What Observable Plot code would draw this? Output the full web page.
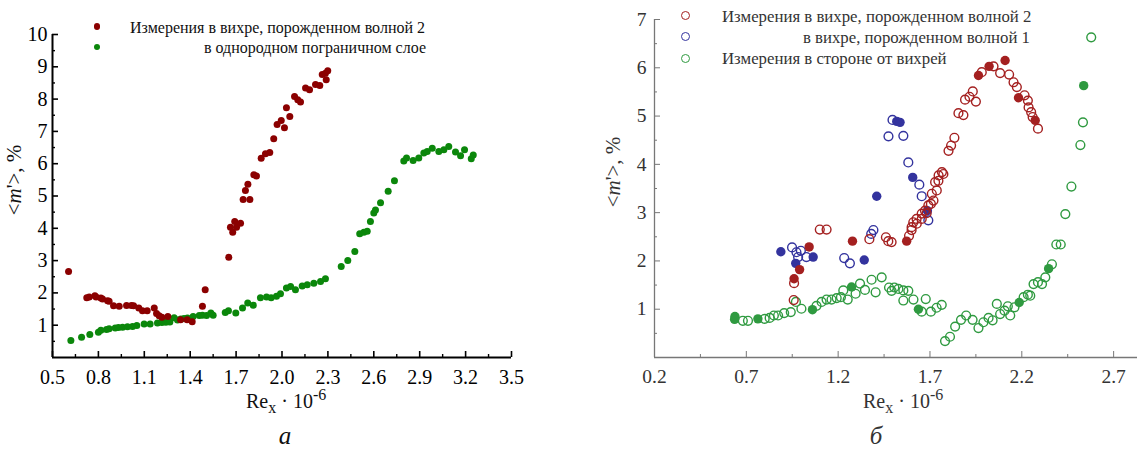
<!DOCTYPE html>
<html><head><meta charset="utf-8">
<script src="https://cdn.jsdelivr.net/npm/d3@7"></script>
<script src="https://cdn.jsdelivr.net/npm/@observablehq/plot@0.6"></script>
<style>
html,body{margin:0;padding:0;background:#fff;}
#wrap{position:relative;width:1137px;height:453px;overflow:hidden;font-family:"Liberation Serif","Times New Roman",serif;background:#fff;}
.abs{position:absolute;white-space:nowrap;}
sub,sup{font-size:0.8em;line-height:0;}
.dot{position:absolute;border-radius:50%;box-sizing:border-box;}
</style></head><body><div id="wrap"></div>
<script>
// ---------- Panel а data ----------
const xTicksA = [0.5,0.8,1.1,1.4,1.7,2.0,2.3,2.6,2.9,3.2,3.5];
const xMinorA = [0.65,0.95,1.25,1.55,1.85,2.15,2.45,2.75,3.05,3.35];
const yTicksA = [1,2,3,4,5,6,7,8,9,10];
const yMinorA = [0.5,1.5,2.5,3.5,4.5,5.5,6.5,7.5,8.5,9.5];
const legendA = ["Измерения в вихре, порожденном волной 2", "в однородном пограничном слое"];
const vortexA = [[0.605,2.66],[0.724,1.85],[0.74,1.87],[0.777,1.91],[0.785,1.87],[0.816,1.84],[0.827,1.81],[0.86,1.76],[0.87,1.74],[0.899,1.6],[0.936,1.59],[0.984,1.61],[1.016,1.61],[1.03,1.6],[1.064,1.53],[1.088,1.45],[1.119,1.45],[1.165,1.53],[1.18,1.36],[1.197,1.29],[1.215,1.25],[1.254,1.27],[1.337,1.17],[1.38,1.17],[1.413,1.11],[1.48,1.59],[1.498,2.1],[1.652,3.1],[1.663,4.03],[1.678,3.88],[1.691,4.21],[1.703,4.03],[1.729,4.16],[1.746,4.89],[1.761,5.17],[1.777,5.36],[1.79,4.89],[1.816,5.66],[1.833,5.62],[1.864,6.17],[1.892,6.31],[1.92,6.35],[1.946,6.77],[1.968,7.21],[1.995,7.34],[2.016,7.11],[2.029,7.73],[2.051,7.46],[2.082,8.08],[2.103,7.98],[2.121,7.91],[2.154,8.34],[2.18,8.29],[2.219,8.45],[2.247,8.42],[2.263,8.76],[2.284,8.8],[2.299,8.88],[2.289,8.6]];
const uniformA = [[0.62,0.53],[0.69,0.63],[0.744,0.71],[0.8,0.78],[0.816,0.84],[0.853,0.87],[0.87,0.89],[0.91,0.91],[0.931,0.93],[0.958,0.94],[0.99,0.95],[1.023,0.96],[1.051,0.99],[1.099,1.04],[1.138,1.04],[1.186,1.07],[1.215,1.08],[1.241,1.09],[1.267,1.1],[1.295,1.23],[1.317,1.16],[1.339,1.19],[1.36,1.21],[1.382,1.22],[1.419,1.27],[1.459,1.3],[1.48,1.31],[1.507,1.3],[1.535,1.38],[1.55,1.31],[1.629,1.39],[1.65,1.45],[1.698,1.38],[1.742,1.53],[1.776,1.69],[1.812,1.62],[1.859,1.85],[1.899,1.87],[1.929,1.85],[1.964,1.9],[1.99,1.97],[2.029,2.15],[2.056,2.2],[2.088,2.1],[2.132,2.21],[2.165,2.25],[2.208,2.3],[2.252,2.35],[2.284,2.44],[2.387,2.82],[2.43,3.0],[2.476,3.28],[2.508,3.83],[2.535,3.88],[2.557,3.91],[2.578,4.21],[2.6,4.47],[2.611,4.57],[2.644,4.79],[2.694,5.15],[2.735,5.47],[2.796,6.08],[2.814,6.18],[2.857,6.1],[2.894,6.18],[2.927,6.33],[2.949,6.38],[2.982,6.48],[3.025,6.38],[3.058,6.43],[3.09,6.53],[3.134,6.36],[3.167,6.25],[3.193,6.43],[3.237,6.15],[3.25,6.27]];

// ---------- Panel б data ----------
const xTicksB = [0.2,0.7,1.2,1.7,2.2,2.7];
const xMinorB = [0.45,0.95,1.45,1.95,2.45];
const yTicksB = [1,2,3,4,5,6,7];
const yMinorB = [0.5,1.5,2.5,3.5,4.5,5.5,6.5];
const legendB = ["Измерения в вихре, порожденном волной 2", "в вихре, порожденном волной 1", "Измерения в стороне от вихрей"];
const wave2Open = [[0.958,1.19],[0.96,1.54],[1.1,2.65],[1.137,2.65],[1.37,2.45],[1.46,2.49],[1.473,2.41],[1.491,2.39],[1.586,2.52],[1.6,2.64],[1.6,2.7],[1.609,2.8],[1.628,2.77],[1.627,2.87],[1.655,2.87],[1.655,2.98],[1.673,3.04],[1.682,2.99],[1.691,3.15],[1.705,3.18],[1.719,3.25],[1.71,3.39],[1.737,3.46],[1.728,3.63],[1.746,3.66],[1.747,3.77],[1.765,3.84],[1.773,3.8],[1.801,4.28],[1.815,4.39],[1.833,4.55],[1.855,5.06],[1.882,5.02],[1.891,5.34],[1.915,5.4],[1.933,5.51],[1.95,5.3],[1.982,5.91],[2.046,6.03],[2.082,5.89],[2.131,5.86],[2.155,5.7],[2.173,5.6],[2.215,5.43],[2.233,5.32],[2.237,5.18],[2.251,5.08],[2.259,4.98],[2.288,4.74]];
const wave2Fill = [[0.96,1.63],[0.99,1.82],[1.042,2.29],[1.278,2.41],[1.573,2.41],[1.964,5.84],[2.022,6.03],[2.109,6.15],[2.182,5.38],[2.273,4.91]];
const wave1Open = [[0.949,2.28],[0.973,2.18],[0.997,2.21],[0.982,2.08],[1.027,2.08],[1.233,2.06],[1.264,1.95],[1.38,2.56],[1.392,2.64],[1.474,4.58],[1.496,4.92],[1.555,4.59],[1.582,4.04],[1.642,3.58],[1.655,3.34],[1.691,2.84]];
const wave1Fill = [[0.888,2.19],[0.969,1.95],[1.064,2.08],[1.342,2.02],[1.41,3.34],[1.519,4.89],[1.537,4.87],[1.606,3.73],[1.686,3.04]];
const asideOpen = [[0.681,0.76],[0.709,0.76],[0.8,0.8],[0.827,0.82],[0.85,0.87],[0.873,0.87],[0.906,0.92],[0.942,0.94],[0.97,1.15],[1.0,1.01],[1.082,1.07],[1.11,1.15],[1.137,1.2],[1.164,1.2],[1.192,1.23],[1.215,1.25],[1.228,1.39],[1.252,1.2],[1.295,1.32],[1.319,1.53],[1.346,1.4],[1.382,1.61],[1.404,1.35],[1.437,1.66],[1.477,1.45],[1.491,1.38],[1.506,1.45],[1.528,1.42],[1.555,1.39],[1.582,1.38],[1.555,1.18],[1.61,1.2],[1.655,0.95],[1.677,1.21],[1.705,0.95],[1.736,1.03],[1.764,1.09],[1.782,0.34],[1.809,0.43],[1.837,0.64],[1.869,0.78],[1.897,0.87],[1.932,0.78],[1.964,0.61],[1.991,0.73],[2.019,0.82],[2.041,0.77],[2.064,1.11],[2.082,0.9],[2.106,0.97],[2.124,1.06],[2.137,0.87],[2.16,1.04],[2.21,1.25],[2.233,1.3],[2.246,1.28],[2.264,1.52],[2.288,1.56],[2.31,1.52],[2.328,1.66],[2.364,1.93],[2.388,2.34],[2.412,2.34],[2.437,2.97],[2.47,3.54],[2.519,4.4],[2.533,4.87],[2.578,6.63]];
const asideFill = [[0.638,0.85],[0.636,0.79],[0.763,0.8],[1.06,0.99],[1.273,1.46],[1.637,1.0],[2.186,1.14],[2.346,1.84],[2.537,5.63]];

const redA = "#8b0000", greenA = "#0b870b";
const redB = "#a42020", blueB = "#33339e", greenB = "#2f9a40";

const wrap = document.getElementById("wrap");
const X = d => d[0], Y = d => d[1];

const left = Plot.plot({
  width: 560, height: 453,
  marginLeft: 52, marginRight: 49, marginTop: 34, marginBottom: 96,
  style: {fontFamily: "Liberation Serif", fontSize: "20px", color: "#000", background: "transparent", overflow: "visible"},
  x: {domain: [0.5, 3.5]},
  y: {domain: [0, 10]},
  marks: [
    Plot.axisX(xTicksA, {tickSize: -6, tickPadding: 18, tickFormat: d => d.toFixed(1), label: null, strokeWidth: 1.6, fontSize: 20}),
    Plot.axisX(xMinorA, {tickSize: -3, tickFormat: () => "", label: null, strokeWidth: 1.4}),
    Plot.axisY(yTicksA, {tickSize: -6, tickPadding: 11, tickFormat: d => String(d), label: null, strokeWidth: 1.6, fontSize: 20}),
    Plot.axisY(yMinorA, {tickSize: -3, tickFormat: () => "", label: null, strokeWidth: 1.4}),
    Plot.ruleX([0.5], {stroke: "#000", strokeWidth: 2}),
    Plot.ruleY([0], {stroke: "#000", strokeWidth: 2}),
    Plot.dot(uniformA, {x: X, y: Y, r: 3.5, fill: greenA}),
    Plot.dot(vortexA, {x: X, y: Y, r: 3.5, fill: redA})
  ]
});
left.style.position = "absolute"; left.style.left = "0px"; left.style.top = "0px";
wrap.appendChild(left);

const right = Plot.plot({
  width: 577, height: 453,
  marginLeft: 94, marginRight: 0, marginTop: 19, marginBottom: 96,
  style: {fontFamily: "Liberation Serif", fontSize: "19px", color: "#333", background: "transparent", overflow: "visible"},
  x: {domain: [0.2, 2.83]},
  y: {domain: [0, 7]},
  marks: [
    Plot.axisX(xTicksB, {tickSize: -6, tickPadding: 18, tickFormat: d => d.toFixed(1), label: null, stroke: "#777", fill: "#333", fontSize: 19.5}),
    Plot.axisX(xMinorB, {tickSize: -3, tickFormat: () => "", label: null, stroke: "#777"}),
    Plot.axisY(yTicksB, {tickSize: -6, tickPadding: 14, tickFormat: d => String(d), label: null, stroke: "#777", fill: "#333", fontSize: 19.5}),
    Plot.axisY(yMinorB, {tickSize: -3, tickFormat: () => "", label: null, stroke: "#777"}),
    Plot.ruleX([0.2], {stroke: "#777", strokeWidth: 1.3}),
    Plot.ruleY([0], {stroke: "#777", strokeWidth: 1.3}),
    Plot.dot(asideOpen, {x: X, y: Y, r: 4.4, stroke: greenB, strokeWidth: 1.4, fill: "none"}),
    Plot.dot(asideFill, {x: X, y: Y, r: 4.7, fill: greenB}),
    Plot.dot(wave1Open, {x: X, y: Y, r: 4.4, stroke: blueB, strokeWidth: 1.4, fill: "none"}),
    Plot.dot(wave1Fill, {x: X, y: Y, r: 4.7, fill: blueB}),
    Plot.dot(wave2Open, {x: X, y: Y, r: 4.4, stroke: redB, strokeWidth: 1.4, fill: "none"}),
    Plot.dot(wave2Fill, {x: X, y: Y, r: 4.7, fill: redB})
  ]
});
right.style.position = "absolute"; right.style.left = "560px"; right.style.top = "0px";
wrap.appendChild(right);

// ---------- HTML text & legends ----------
function txt(html, css) {
  const d = document.createElement("div");
  d.className = "abs";
  d.innerHTML = html;
  Object.assign(d.style, css);
  wrap.appendChild(d);
  return d;
}
function marker(cx, cy, r, color, filled) {
  const d = document.createElement("div");
  d.className = "dot";
  Object.assign(d.style, {left: (cx - r) + "px", top: (cy - r) + "px", width: 2 * r + "px", height: 2 * r + "px",
    background: filled ? color : "transparent", border: filled ? "none" : "1.5px solid " + color});
  wrap.appendChild(d);
}
// Legend а
marker(97, 26.7, 3.4, redA, true);
marker(97, 47, 3.4, greenA, true);
txt(legendA[0], {right: (1137 - 425) + "px", top: "19px", fontSize: "16px", lineHeight: "17px", color: "#111"});
txt(legendA[1], {right: (1137 - 426) + "px", top: "39px", fontSize: "16px", lineHeight: "17px", color: "#111"});
// Legend б
marker(685, 15.7, 4.5, redB, false);
marker(685, 36.7, 4.5, blueB, false);
marker(685, 58.3, 4.5, greenB, false);
txt(legendB[0], {left: "722px", top: "7.8px", fontSize: "16.8px", lineHeight: "17px", color: "#333"});
txt(legendB[1], {right: (1137 - 1030) + "px", top: "29px", fontSize: "16.8px", lineHeight: "17px", color: "#333"});
txt(legendB[2], {left: "722px", top: "50px", fontSize: "16.8px", lineHeight: "17px", color: "#333"});

// Axis titles
const reLabel = "Re<sub>x</sub> · 10<sup>-6</sup>";
txt(reLabel, {left: "246px", top: "391px", fontSize: "20px", lineHeight: "20px", color: "#111"});
txt(reLabel, {left: "863px", top: "391px", fontSize: "20px", lineHeight: "20px", color: "#333"});

// y labels (rotated)
const yLab = "&lt;<i>m</i>'&gt;, %";
txt(yLab, {left: (14 - 50) + "px", top: (180 - 12) + "px", width: "100px", height: "24px", lineHeight: "24px", fontSize: "21px",
  textAlign: "center", transform: "rotate(-90deg)", color: "#111"});
txt(yLab, {left: (613 - 50) + "px", top: (172 - 12) + "px", width: "100px", height: "24px", lineHeight: "24px", fontSize: "21px",
  textAlign: "center", transform: "rotate(-90deg)", color: "#333"});

// Panel letters
txt("<i>а</i>", {left: "270px", top: "423px", width: "30px", textAlign: "center", fontSize: "25px", lineHeight: "26px", color: "#111"});
txt("<i>б</i>", {left: "861px", top: "423px", width: "30px", textAlign: "center", fontSize: "25px", lineHeight: "26px", color: "#333"});
</script></body></html>
